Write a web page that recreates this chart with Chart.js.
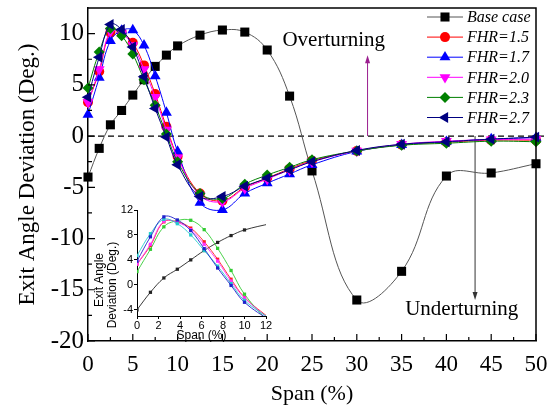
<!DOCTYPE html>
<html>
<head>
<meta charset="utf-8">
<script src="https://cdn.jsdelivr.net/npm/chart.js@4/dist/chart.umd.min.js"></script>
<style>
  html, body { margin: 0; padding: 0; background: #fff; }
  #wrap { position: relative; width: 553px; height: 410px; }
  #main { position: absolute; left: 0; top: 0; }
  #inset { position: absolute; left: 90px; top: 195px; }
</style>
</head>
<body>
<div id="wrap">
  <canvas id="main" width="553" height="410"></canvas>
  <canvas id="inset" width="190" height="150"></canvas>
</div>
<script>
// Span positions (%) of the measured points
const span = [0, 1.25, 2.5, 3.75, 5, 6.25, 7.5, 8.75, 10, 12.5, 15, 17.5, 20, 22.5, 25, 30, 35, 40, 45, 50];

// Exit angle deviation (deg.) per configuration
const baseCase = [-4.0, -1.2, 1.1, 2.5, 4.0, 5.5, 6.8, 7.9, 8.8, 9.85, 10.35, 10.15, 8.4, 3.9, -3.4, -16.0, -13.2, -3.9, -3.6, -2.7];
const fhr15 = [3.3, 6.3, 10.1, 10.1, 9.1, 6.9, 4.1, 0.9, -2.0, -5.6, -6.3, -5.0, -4.1, -3.2, -2.4, -1.45, -0.85, -0.6, -0.4, -0.4];
const fhr17 = [2.1, 5.7, 9.3, 10.3, 10.35, 8.85, 5.85, 2.3, -1.5, -6.5, -7.2, -5.6, -4.6, -3.7, -2.8, -1.5, -0.85, -0.55, -0.3, -0.15];
const fhr20 = [3.3, 6.5, 10.2, 10.0, 8.85, 6.5, 3.8, 0.6, -2.1, -5.8, -6.4, -5.1, -4.2, -3.3, -2.5, -1.45, -0.8, -0.5, -0.35, -0.3];
const fhr23 = [4.7, 8.2, 10.5, 9.8, 8.0, 5.5, 3.0, 0.2, -2.5, -5.6, -6.1, -4.7, -3.8, -3.05, -2.3, -1.45, -0.9, -0.7, -0.5, -0.55];
const fhr27 = [3.8, 7.7, 10.9, 10.4, 8.7, 5.8, 2.7, -0.1, -2.8, -5.9, -5.9, -4.9, -4.1, -3.3, -2.5, -1.4, -0.8, -0.55, -0.3, -0.1];

const seriesLabels = ['Base case', 'FHR=1.5', 'FHR=1.7', 'FHR=2.0', 'FHR=2.3', 'FHR=2.7'];

// Axis ticks
const xTicks = [0, 5, 10, 15, 20, 25, 30, 35, 40, 45, 50];
const yTicks = [-20, -15, -10, -5, 0, 5, 10];
const insetXTicks = [0, 2, 4, 6, 8, 10, 12];
const insetYTicks = [-4, 0, 4, 8, 12];

const serif = "'Liberation Serif', 'Times New Roman', serif";
const sans = "'Liberation Sans', Arial, sans-serif";

const pts = vals => span.map((x, i) => ({ x, y: vals[i] }));

const seriesStyle = [
  { values: baseCase, line: '#555555', fill: '#000000', style: 'rect', rot: 0, r: 6.4, order: 5 },
  { values: fhr15, line: '#ff0000', fill: '#ff0000', style: 'circle', rot: 0, r: 5, order: 4 },
  { values: fhr17, line: '#0000ff', fill: '#0000ff', style: 'triangle', rot: 0, r: 6.3, order: 3 },
  { values: fhr20, line: '#ff00ff', fill: '#ff00ff', style: 'triangle', rot: 180, r: 6.3, order: 2 },
  { values: fhr23, line: '#008000', fill: '#008000', style: 'rectRot', rot: 0, r: 5.5, order: 1 },
  { values: fhr27, line: '#000080', fill: '#000080', style: 'triangle', rot: 270, r: 6.3, order: 0 }
];

const mainDatasets = seriesStyle.map((s, i) => ({
  label: seriesLabels[i],
  data: pts(s.values),
  borderColor: s.line,
  borderWidth: 1,
  backgroundColor: s.fill,
  pointBackgroundColor: s.fill,
  pointBorderColor: s.fill,
  pointBorderWidth: 0,
  pointStyle: s.style,
  pointRotation: s.rot,
  pointRadius: s.r,
  tension: 0.4,
  clip: false,
  order: s.order
}));

// Frame, inward ticks, zero reference line, annotations and legend
const decorations = {
  id: 'decorations',
  beforeDatasetsDraw(chart) {
    const { ctx, chartArea: { left, right }, scales: { y } } = chart;
    const y0 = y.getPixelForValue(0);
    ctx.save();
    ctx.strokeStyle = '#000';
    ctx.lineWidth = 1.2;
    ctx.setLineDash([6, 4]);
    ctx.beginPath();
    ctx.moveTo(left, y0);
    ctx.lineTo(right + 10, y0);
    ctx.stroke();
    ctx.restore();

    // annotation arrows
    const arrow = (xv, fromV, toV, color) => {
      const px = chart.scales.x.getPixelForValue(xv);
      const p0 = y.getPixelForValue(fromV);
      const p1 = y.getPixelForValue(toV);
      const dir = Math.sign(p1 - p0);
      ctx.save();
      ctx.strokeStyle = color;
      ctx.fillStyle = color;
      ctx.lineWidth = 1;
      ctx.beginPath();
      ctx.moveTo(px, p0);
      ctx.lineTo(px, p1 - dir * 6);
      ctx.stroke();
      ctx.beginPath();
      ctx.moveTo(px, p1);
      ctx.lineTo(px - 2.5, p1 - dir * 8);
      ctx.lineTo(px + 2.5, p1 - dir * 8);
      ctx.closePath();
      ctx.fill();
      ctx.restore();
    };
    arrow(31.2, 0, 7.9, '#9b1f8f');
    arrow(43.2, 0, -16, '#333333');
  },
  afterDraw(chart) {
    const { ctx, chartArea: { left, right, top, bottom }, scales: { x, y } } = chart;
    ctx.save();
    ctx.strokeStyle = '#000';
    ctx.lineWidth = 1.5;
    ctx.beginPath();
    ctx.moveTo(left, top);
    ctx.lineTo(right, top);
    ctx.lineTo(right, bottom);
    ctx.stroke();

    ctx.lineWidth = 1.2;
    ctx.beginPath();
    for (let v = 0; v <= 50; v += 2.5) {
      const px = x.getPixelForValue(v);
      const len = v % 5 === 0 ? 7 : 4;
      ctx.moveTo(px, bottom);
      ctx.lineTo(px, bottom - len);
    }
    for (let v = -20; v <= 10; v += 2.5) {
      const py = y.getPixelForValue(v);
      const len = v % 5 === 0 ? 7 : 4;
      ctx.moveTo(left, py);
      ctx.lineTo(left + len, py);
    }
    ctx.stroke();

    // annotation text
    ctx.fillStyle = '#000';
    ctx.font = '21px ' + serif;
    ctx.textBaseline = 'middle';
    ctx.textAlign = 'left';
    ctx.fillText('Overturning', x.getPixelForValue(21.7), y.getPixelForValue(9.3));
    ctx.fillText('Underturning', x.getPixelForValue(35.4), y.getPixelForValue(-16.9));

    // legend
    const lx0 = 427, lx1 = 463, tx = 467;
    ctx.font = 'italic 16px ' + serif;
    chart.data.datasets.forEach((ds, i) => {
      const ly = 17 + i * 20.1;
      ctx.strokeStyle = ds.borderColor;
      ctx.lineWidth = 1;
      ctx.beginPath();
      ctx.moveTo(lx0, ly);
      ctx.lineTo(lx1, ly);
      ctx.stroke();
      ctx.fillStyle = ds.pointBackgroundColor;
      ctx.strokeStyle = ds.pointBackgroundColor;
      Chart.helpers.drawPoint(ctx, {
        pointStyle: ds.pointStyle, rotation: ds.pointRotation,
        radius: ds.pointRadius, borderWidth: 0
      }, (lx0 + lx1) / 2, ly);
      ctx.fillStyle = '#000';
      ctx.fillText(ds.label, tx, ly + 1);
    });
    ctx.restore();
  }
};

new Chart(document.getElementById('main'), {
  type: 'line',
  data: { datasets: mainDatasets },
  options: {
    responsive: false,
    animation: false,
    devicePixelRatio: 1,
    layout: { padding: { left: 0, right: 17, top: 8, bottom: 0 } },
    plugins: { legend: { display: false }, tooltip: { enabled: false } },
    scales: {
      x: {
        type: 'linear', min: 0, max: 50,
        afterBuildTicks: s => { s.ticks = xTicks.map(v => ({ value: v })); },
        afterFit: s => { s.height = 69; s.paddingLeft = 0; s.paddingRight = 0; },
        grid: { display: false, drawTicks: false },
        border: { display: true, color: '#000', width: 1.5 },
        ticks: { color: '#000', font: { family: serif, size: 23 }, padding: 10, maxRotation: 0, autoSkip: false },
        title: { display: true, text: 'Span (%)', color: '#000', font: { family: serif, size: 22 }, padding: { top: 0, bottom: 3 } }
      },
      y: {
        type: 'linear', min: -20, max: 12.5,
        afterBuildTicks: s => { s.ticks = yTicks.map(v => ({ value: v })); },
        afterFit: s => { s.width = 88; s.paddingTop = 0; s.paddingBottom = 0; },
        grid: { display: false, drawTicks: false },
        border: { display: true, color: '#000', width: 1.5 },
        ticks: { color: '#000', font: { family: serif, size: 25 }, padding: 4, autoSkip: false },
        title: { display: true, text: 'Exit Angle Deviation (Deg.)', color: '#000', font: { family: serif, size: 23 }, padding: { top: 14, bottom: 0 } }
      }
    }
  },
  plugins: [decorations]
});

// Inset: near-hub detail, 0-12 % span
const insetColors = ['#222222', '#ff2020', '#33cc33', '#ff33ff', '#22cccc', '#2020cc'];
const insetCount = 10; // points up to 12.5 % span
const insetDatasets = seriesStyle.map((s, i) => ({
  label: seriesLabels[i],
  data: pts(s.values).slice(0, insetCount),
  borderColor: insetColors[i],
  borderWidth: 0.9,
  pointBackgroundColor: insetColors[i],
  pointBorderWidth: 0,
  pointStyle: 'rect',
  pointRadius: 2.3,
  tension: 0.4,
  order: s.order
}));

const insetTitle = {
  id: 'insetTitle',
  afterDraw(chart) {
    const { ctx } = chart;
    ctx.save();
    ctx.fillStyle = '#000';
    ctx.font = '12px ' + sans;
    ctx.textAlign = 'center';
    ctx.textBaseline = 'middle';
    ctx.translate(10, 85);
    ctx.rotate(-Math.PI / 2);
    ctx.fillText('Exit Angle', 0, 0);
    ctx.fillText('Deviation (Deg.)', -5, 13);
    ctx.restore();
  }
};

new Chart(document.getElementById('inset'), {
  type: 'line',
  data: { datasets: insetDatasets },
  options: {
    responsive: false,
    animation: false,
    devicePixelRatio: 1,
    layout: { padding: { left: 0, right: 14, top: 15, bottom: 0 } },
    plugins: { legend: { display: false }, tooltip: { enabled: false } },
    scales: {
      x: {
        type: 'linear', min: 0, max: 12,
        afterBuildTicks: s => { s.ticks = insetXTicks.map(v => ({ value: v })); },
        afterFit: s => { s.height = 29; s.paddingLeft = 0; s.paddingRight = 0; },
        grid: { display: true, drawOnChartArea: false, tickLength: 3, color: '#000' },
        border: { display: true, color: '#000', width: 1 },
        ticks: { color: '#000', font: { family: sans, size: 11 }, padding: 0, maxRotation: 0, autoSkip: false },
        title: { display: true, text: 'Span (%)', color: '#000', font: { family: sans, size: 12 }, padding: { top: 0, bottom: 2 } }
      },
      y: {
        type: 'linear', min: -5, max: 12,
        afterBuildTicks: s => { s.ticks = insetYTicks.map(v => ({ value: v })); },
        afterFit: s => { s.width = 47; s.paddingTop = 0; s.paddingBottom = 0; },
        grid: { display: true, drawOnChartArea: false, tickLength: 3, color: '#000' },
        border: { display: true, color: '#000', width: 1 },
        ticks: { color: '#000', font: { family: sans, size: 11 }, padding: 1, autoSkip: false }
      }
    }
  },
  plugins: [insetTitle]
});
</script>
</body>
</html>
